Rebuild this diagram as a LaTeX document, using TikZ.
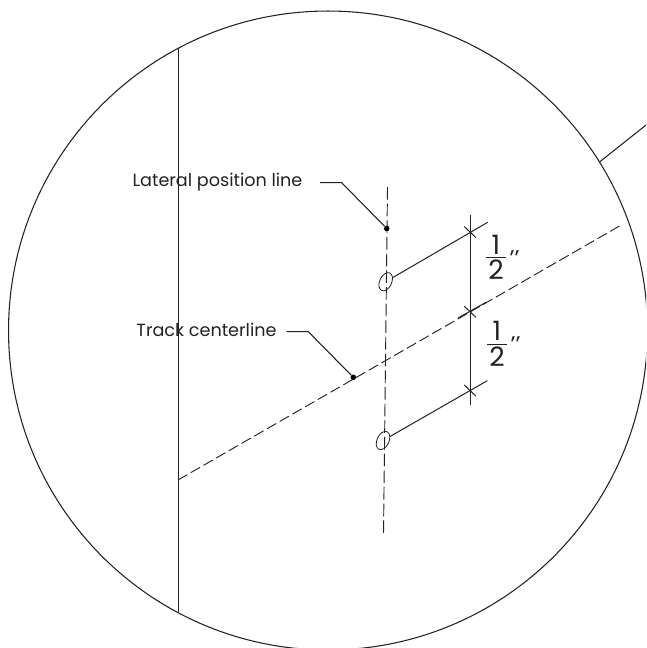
\documentclass[tikz,border=0pt]{standalone}
\usepackage{fontspec}
\usetikzlibrary{shapes.geometric}
\setmainfont{Poppins}
\definecolor{ink}{HTML}{222222}
\tikzset{
  x=0.75pt,y=-0.75pt,
  thin line/.style={draw=ink,line width=0.8pt},
  dim line/.style={draw=ink,line width=0.75pt},
  center line/.style={draw=ink,line width=0.7pt,dash pattern=on 8pt off 3pt},
  lateral line/.style={draw=ink,line width=0.7pt,dash pattern=on 9.5pt off 3pt},
  dotmark/.style={circle,fill=black,inner sep=0pt,minimum size=4.2pt},
  hole/.style={ellipse,draw=ink,line width=0.6pt,inner sep=0pt,minimum width=14.5pt,minimum height=9pt,rotate=65},
  label text/.style={text=ink,inner sep=0pt,font=\fontsize{13.2pt}{15pt}\selectfont},
  digit text/.style={text=ink,inner sep=0pt,font=\fontsize{20pt}{22pt}\selectfont},
  quote text/.style={text=ink,inner sep=0pt,font=\fontsize{17pt}{20pt}\selectfont},
}
\begin{document}
\begin{tikzpicture}
\useasboundingbox (0,0) rectangle (646,648);
\clip (0,0) rectangle (646,648);
\coordinate (c) at (328,330.5);
\draw[thin line] (c) circle[radius=239.6pt];
% frame lines
\coordinate (vt) at (178.4,48); \coordinate (vb) at (178.4,612);
\draw[thin line] (vt) -- (vb);
\coordinate (ra) at (599.5,162); \coordinate (rb) at (648,123.5);
\draw[thin line] (ra) -- (rb);
% centre lines
\coordinate (ta) at (178,480); \coordinate (tb) at (623,224);
\draw[center line] (ta) -- (tb);
\coordinate (la) at (387.5,187); \coordinate (lb) at (383.5,533);
\draw[lateral line] (la) -- (lb);
% holes and extension lines
\node[hole] (h1) at (385.7,281.7) {};
\node[hole] (h2) at (383,440.5) {};
\coordinate (e1) at (487.7,222.3); \coordinate (e2) at (487.3,380.7);
\draw[dim line] (h1) -- (e1);
\draw[dim line] (h2) -- (e2);
\coordinate (e3a) at (458,318); \coordinate (e3b) at (486,302.3);
\draw[dim line] (e3a) -- (e3b);
% dimension line
\coordinate (da) at (470,215); \coordinate (db) at (470,405);
\draw[dim line] (da) -- (db);
\foreach \n/\y in {t1/232,t2/311.7,t3/390.5}{
  \coordinate (\n a) at (464.2,\y-5.5); \coordinate (\n b) at (475.8,\y+5.5);
  \draw[dim line] (\n a) -- (\n b);
}
% labels and leaders
\node[label text] (lat) at (217.5,182) {Lateral position line};
\node[label text] (trk) at (206.5,330) {Track centerline};
\node[dotmark] (d1) at (386.7,228.5) {};
\node[dotmark] (d2) at (353.3,377.3) {};
\coordinate (l1) at (320,182.7); \coordinate (k1) at (341.7,182.7);
\coordinate (l2) at (286.7,331.7); \coordinate (k2) at (308.3,331.7);
\draw[thin line] (l1) -- (k1) -- (d1);
\draw[thin line] (l2) -- (k2) -- (d2);
% fractions
\node[digit text] (n1) at (496,245) {1};
\node[digit text] (m1) at (496,270) {2};
\coordinate (b1a) at (485.7,257.7); \coordinate (b1b) at (505.7,257.7);
\draw[dim line] (b1a) -- (b1b);
\node[quote text] (q1) at (514.5,259) {’’};
\node[digit text] (n2) at (497,331) {1};
\node[digit text] (m2) at (497,357) {2};
\coordinate (b2a) at (487,344); \coordinate (b2b) at (507,344);
\draw[dim line] (b2a) -- (b2b);
\node[quote text] (q2) at (515.5,345) {’’};
\end{tikzpicture}
\end{document}
